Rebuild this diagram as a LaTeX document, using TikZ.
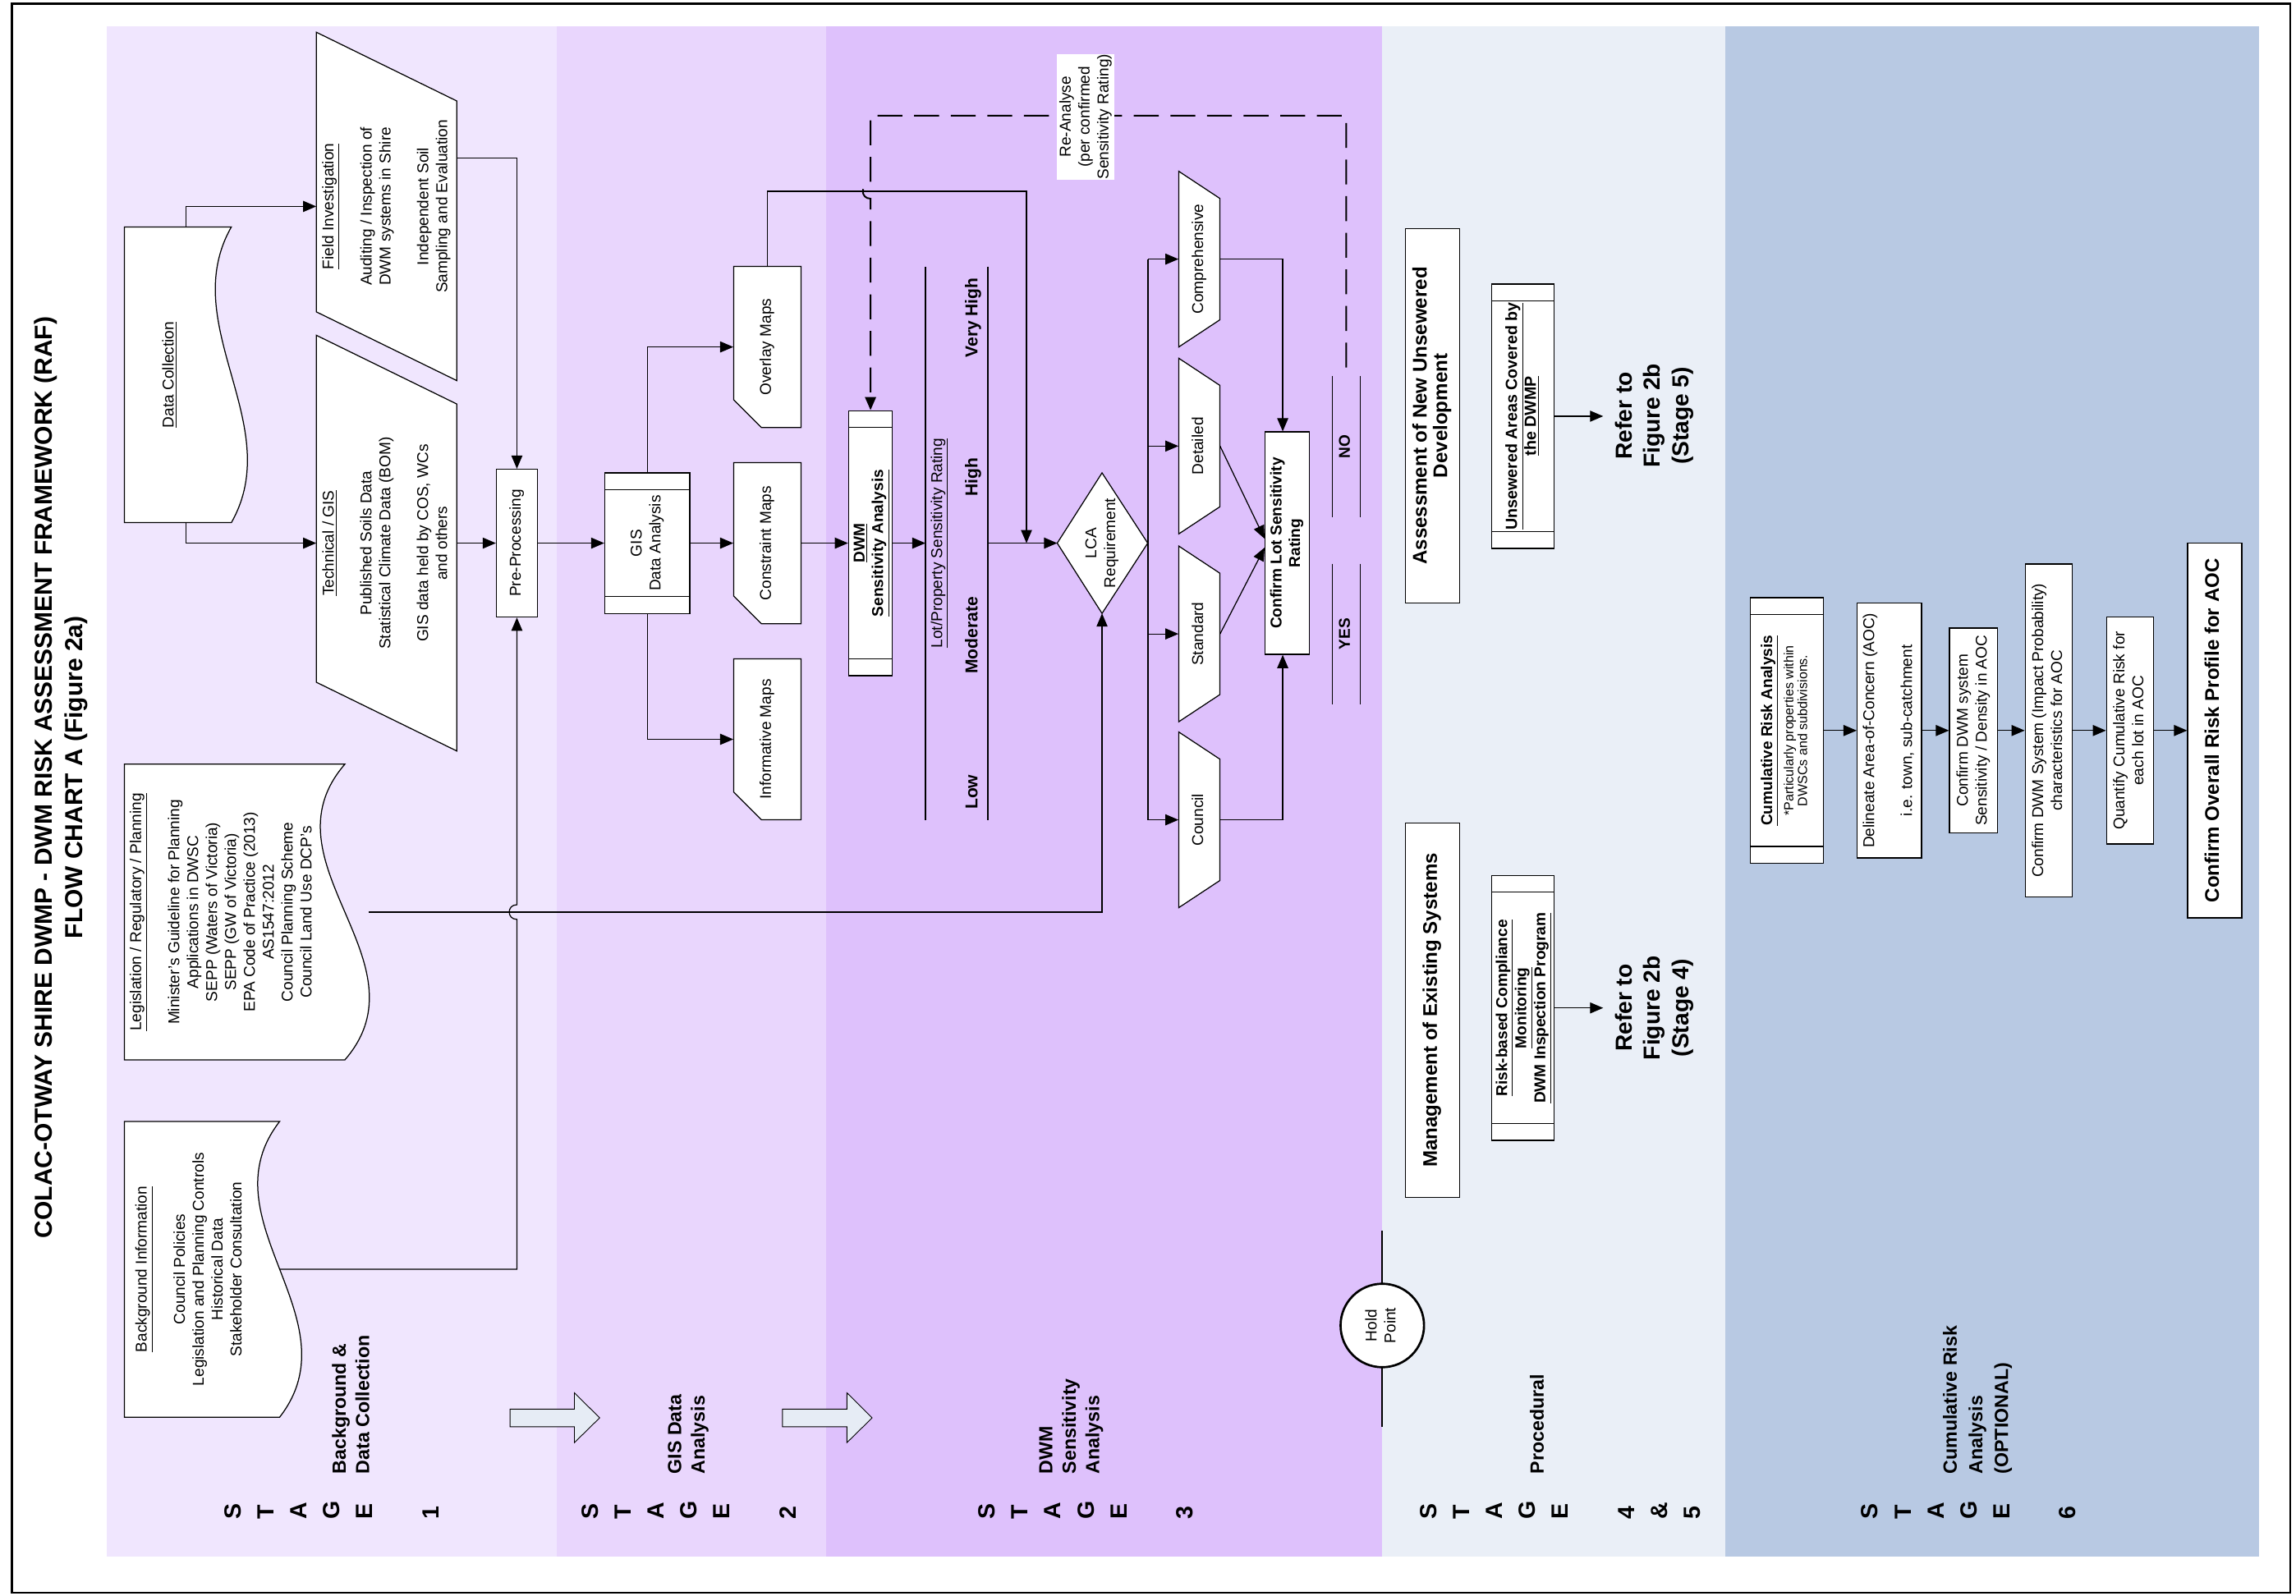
\documentclass[tikz,border=0pt]{standalone}
\usepackage{fontspec}
\setmainfont{Liberation Sans}
\usepackage{graphicx}
\usetikzlibrary{arrows.meta,calc}

\definecolor{stageone}{RGB}{240,230,254}
\definecolor{stagetwo}{RGB}{233,214,253}
\definecolor{stagethree}{RGB}{222,193,252}
\definecolor{stagefour}{RGB}{234,239,247}
\definecolor{stagesix}{RGB}{184,201,227}
\definecolor{hollow}{RGB}{230,236,245}

\newcommand{\vtext}[2][c]{\rotatebox{90}{\begin{tabular}{@{}#1@{}}#2\end{tabular}}}

\begin{document}
\begin{tikzpicture}[x=1pt,y=-1pt,
    body/.style={font=\fontsize{10.7}{12.9}\selectfont, inner sep=0pt},
    bbody/.style={font=\bfseries\fontsize{10.7}{12.6}\selectfont, inner sep=0pt},
    boxhead/.style={font=\bfseries\fontsize{13.5}{14}\selectfont, inner sep=0pt},
    referto/.style={font=\bfseries\fontsize{15.8}{19.4}\selectfont, inner sep=0pt},
    stagelbl/.style={font=\bfseries\fontsize{16}{22.5}\selectfont, inner sep=0pt, anchor=south},
    stagedesc/.style={font=\bfseries\fontsize{13}{16}\selectfont, inner sep=0pt, anchor=south},
    box/.style={draw, fill=white, line width=0.7pt},
    barbox/.style={box, path picture={
        \draw[line width=0.7pt]
          ([yshift=-11.5pt]path picture bounding box.north west) -- ([yshift=-11.5pt]path picture bounding box.north east)
          ([yshift=11.5pt]path picture bounding box.south west) -- ([yshift=11.5pt]path picture bounding box.south east);}},
    shp/.style={draw, fill=white, line width=0.7pt},
    wire/.style={line width=0.7pt},
    flow/.style={line width=0.7pt, -{Triangle[length=9pt,width=7.5pt]}}
  ]
  \useasboundingbox (0,0) rectangle (1568,1090);
  \fill[stageone] (73,18) rectangle (380,1063);
  \fill[stagetwo] (380,18) rectangle (564,1063);
  \fill[stagethree] (564,18) rectangle (944,1063);
  \fill[stagefour] (944,18) rectangle (1178,1063);
  \fill[stagesix] (1178,18) rectangle (1543,1063);
  \draw[line width=1.5pt] (8,2.5) rectangle (1564,1088);

  \node[font=\bfseries\fontsize{16.8}{20.5}\selectfont, inner sep=0pt] (title) at (42,531)
    {\vtext{COLAC-OTWAY SHIRE DWMP - DWM RISK ASSESSMENT FRAMEWORK (RAF)\\FLOW CHART A (Figure 2a)}};

  \draw[shp] (158,155) -- (85,155) -- (85,357) -- (158,357) .. controls (196,290) and (120,222) .. (158,155) -- cycle;
  \node[body] (datacol) at (116,256) {\vtext{\underline{Data Collection}}};
  \draw[shp] (235.5,522) -- (85,522) -- (85,724) -- (235.5,724) .. controls (293.5,657) and (177.5,589) .. (235.5,522) -- cycle;
  \node[body] (legis) at (152,623) {\vtext{\underline{Legislation / Regulatory / Planning}\\ \\Minister's Guideline for Planning\\Applications in DWSC\\SEPP (Waters of Victoria)\\SEPP (GW of Victoria)\\EPA Code of Practice (2013)\\AS1547:2012\\Council Planning Scheme\\Council Land Use DCP's}};
  \draw[shp] (191,766) -- (85,766) -- (85,968) -- (191,968) .. controls (243,901) and (139,833) .. (191,766) -- cycle;
  \node[body] (backg) at (130,867) {\vtext{\underline{Background Information}\\ \\Council Policies\\Legislation and Planning Controls\\Historical Data\\Stakeholder Consultation}};

  \draw[shp] (216,22) -- (312,69) -- (312,260) -- (216,213) -- cycle;
  \node[body] (field) at (264,141) {\vtext{\underline{Field Investigation}\\ \\Auditing / Inspection of\\DWM systems in Shire\\ \\Independent Soil\\Sampling and Evaluation}};
  \draw[shp] (216,229) -- (312,276) -- (312,513) -- (216,466) -- cycle;
  \node[body] (tech) at (264,371) {\vtext{\underline{Technical / GIS}\\ \\Published Soils Data\\Statistical Climate Data (BOM)\\ \\GIS data held by COS, WCs\\and others}};

  \coordinate (dctop) at (127,155);
  \coordinate (dcbot) at (127,357);
  \coordinate (fieldw) at (216,141);
  \coordinate (fielde) at (312,108);
  \coordinate (techw) at (216,371);
  \coordinate (teche) at (312,371);
  \coordinate (legise) at (252,623);
  \coordinate (backe) at (191,867);

  \node[box, body, minimum width=28pt, minimum height=101pt] (prep) at (353,371) {\vtext{Pre-Processing}};
  \draw[flow] (dctop) |- (fieldw);
  \draw[flow] (dcbot) |- (techw);
  \draw[flow] (fielde) -| (prep.north);
  \draw[flow] (teche) -- (prep.west);
  \draw[flow] (backe) -- (353,867) -- (353,628) .. controls (346,628) and (346,618) .. (353,618) -- (prep.south);

  \node[barbox, body, minimum width=58pt, minimum height=96pt] (gis) at (442,371) {\vtext{GIS\\Data Analysis}};
  \draw[flow] (prep.east) -- (gis.west);
  \foreach \nm/\yc/\txt in {ovl/237/Overlay Maps, cons/371/Constraint Maps, info/505/Informative Maps}{
    \draw[shp] (501,\yc-55) -- (547,\yc-55) -- (547,\yc+55) -- (520,\yc+55) -- (501,\yc+36) -- cycle;
    \node[body, minimum width=46pt, minimum height=110pt] (\nm) at (524,\yc) {\vtext{\txt}};
  }
  \draw[flow] (gis.north) |- (ovl.west);
  \draw[flow] (gis.east) -- (cons.west);
  \draw[flow] (gis.south) |- (info.west);

  \node[barbox, bbody, minimum width=30pt, minimum height=181pt] (dwm) at (594.5,371) {\vtext{\underline{DWM}\\\underline{Sensitivity Analysis}}};
  \draw[flow] (cons.east) -- (dwm.west);

  \draw[wire] (632,182) -- (632,560) (674.6,182) -- (674.6,560);
  \node[body] (lotrate) at (641,371) {\vtext{\underline{Lot/Property Sensitivity Rating}}};
  \foreach \nm/\yc/\lvl in {rvh/217/Very High, rhi/326/High, rmo/434/Moderate, rlo/541/Low}
    \node[font=\bfseries\fontsize{11.8}{13}\selectfont, inner sep=0pt] (\nm) at (665,\yc) {\vtext{\lvl}};
  \coordinate (lotw) at (632,371);
  \coordinate (lote) at (674.6,371);
  \draw[flow] (dwm.east) -- (lotw);

  \draw[shp] (722,371) -- (752.6,323) -- (783.8,371) -- (752.6,419) -- cycle;
  \node[body] (lca) at (752.6,371) {\vtext{LCA\\Requirement}};
  \coordinate (lcaw) at (722,371);
  \coordinate (lcas) at (752.6,419);
  \coordinate (merge) at (701,371);
  \draw[flow] (lote) -- (lcaw);
  \draw[flow] (legise) -| (lcas);
  \draw[flow] (ovl.north) |- (701,130.7) -- (merge);

  \draw[wire] (784,177) -- (784,560);
  \foreach \nm/\yc/\txt in {comp/177/Comprehensive, detl/304.7/Detailed, stnd/433/Standard, cncl/560/Council}{
    \draw[shp] (805,\yc-60) -- (833,\yc-41.5) -- (833,\yc+41.5) -- (805,\yc+60) -- cycle;
    \node[body, minimum width=28pt, minimum height=83pt] (\nm) at (819,\yc) {\vtext{\txt}};
    \draw[flow] (784,\yc) -- (\nm.west);
  }

  \node[box, bbody, minimum width=30pt, minimum height=152pt] (conf) at (879,371) {\vtext{Confirm Lot Sensitivity\\Rating}};
  \draw[flow] (comp.east) -| ([xshift=-3pt]conf.north);
  \draw[flow] (cncl.east) -| ([xshift=-3pt]conf.south);
  \draw[flow] (detl.east) -- ([yshift=3pt]conf.west);
  \draw[flow] (stnd.east) -- ([yshift=-3pt]conf.west);

  \draw[wire] (909.7,257) -- (909.7,353.5) (928.9,257) -- (928.9,353.5);
  \draw[wire] (909.7,385) -- (909.7,481) (928.9,385) -- (928.9,481);
  \node[bbody] (no) at (919.3,305) {\vtext{NO}};
  \node[bbody] (yes) at (919.3,433) {\vtext{YES}};
  \coordinate (notop) at (919.3,251);
  \draw[line width=1.1pt, dash pattern=on 17pt off 8pt, -{Triangle[length=9pt,width=7.5pt]}]
    (notop) -- (919.3,79) -- (594.5,79) -- (594.5,125.7) .. controls (587.5,125.7) and (587.5,135.7) .. (594.5,135.7) -- (dwm.north);
  \node[body, fill=white, minimum width=39pt, minimum height=85.5pt] (reanal) at (741.5,79.8) {\vtext{Re-Analyse\\(per confirmed\\Sensitivity Rating)}};

  \draw[line width=1.1pt] (944,840.6) -- (944,974.6);
  \node[circle, draw, line width=1.5pt, fill=white, minimum size=57pt, body] (hold) at (944,905.4) {\vtext{Hold\\Point}};

  \node[box, boxhead, minimum width=37pt, minimum height=256pt] (newdev) at (978.5,284) {\vtext{Assessment of New Unsewered\\Development}};
  \node[barbox, font=\bfseries\fontsize{11}{12.4}\selectfont, inner sep=0pt, minimum width=43pt, minimum height=180.6pt] (unsew) at (1040,284.3) {\vtext{\underline{Unsewered Areas Covered by}\\\underline{the DWMP}}};
  \node[referto] (refer5) at (1130,284) {\vtext{Refer to\\Figure 2b\\(Stage 5)}};
  \draw[flow] (unsew.east) -- ++(33,0);
  \node[box, boxhead, minimum width=37pt, minimum height=256pt] (mgmt) at (978.5,690) {\vtext{Management of Existing Systems}};
  \node[barbox, bbody, minimum width=43pt, minimum height=181pt] (riskmon) at (1040,688.5) {\vtext{\underline{Risk-based Compliance}\\\underline{Monitoring}\\\underline{DWM Inspection Program}}};
  \node[referto] (refer4) at (1130,688.5) {\vtext{Refer to\\Figure 2b\\(Stage 4)}};
  \draw[flow] (riskmon.east) -- ++(33,0);

  \node[barbox, minimum width=50pt, minimum height=181.4pt] (cumrisk) at (1220.3,499) {};
  \node[bbody] (cumhead) at (1208,499) {\vtext{\underline{Cumulative Risk Analysis}}};
  \node[font=\fontsize{9}{9.5}\selectfont, inner sep=0pt] (cumnote) at (1227.5,499) {\vtext{*Particularly properties within\\DWSCs and subdivisions.}};
  \node[box, body, minimum width=44pt, minimum height=174pt] (aoc) at (1290.3,499) {\vtext{Delineate Area-of-Concern (AOC)\\ \\i.e. town, sub-catchment}};
  \node[box, body, minimum width=32.7pt, minimum height=140pt] (sens) at (1347.7,499) {\vtext{Confirm DWM system\\Sensitivity / Density in AOC}};
  \node[box, body, minimum width=32.3pt, minimum height=227.5pt] (impact) at (1399.2,499) {\vtext{Confirm DWM System (Impact Probability)\\characteristics for AOC}};
  \node[box, body, minimum width=32.3pt, minimum height=155pt] (quant) at (1454.7,499) {\vtext{Quantify Cumulative Risk for\\each lot in AOC}};
  \node[box, boxhead, minimum width=37pt, minimum height=256pt] (overall) at (1512.5,499) {\vtext{Confirm Overall Risk Profile for AOC}};
  \foreach \a/\b in {cumrisk/aoc, aoc/sens, sens/impact, impact/quant, quant/overall}
    \draw[flow] (\a.east) -- (\b.west);

  \foreach \xs in {348.3, 534.4}
    \draw[fill=hollow, line width=0.5pt] (\xs,962.5) -- (\xs+44,962.5) -- (\xs+44,951.4) -- (\xs+61.2,968.5)
      -- (\xs+44,985.4) -- (\xs+44,974.6) -- (\xs,974.6) -- cycle;

  \foreach \nm/\xc/\num in {stg1/227.5/1, stg2/471.5/2, stg3/742.5/3, stg6/1345.5/6}
    \node[stagelbl] (\nm) at (\xc,1038) {\vtext[l]{S\\T\\A\\G\\E\\ \\\num}};
  \node[stagelbl] (stg45) at (1066.5,1038) {\vtext[l]{S\\T\\A\\G\\E\\ \\4\\\&\\5}};
  \node[stagedesc] (desc1) at (241,1007) {\vtext[l]{Background \&\\Data Collection}};
  \node[stagedesc] (desc2) at (470,1007) {\vtext[l]{GIS Data\\Analysis}};
  \node[stagedesc] (desc3) at (731.5,1007) {\vtext[l]{DWM\\Sensitivity\\Analysis}};
  \node[stagedesc] (desc45) at (1051,1007) {\vtext[l]{Procedural}};
  \node[stagedesc, font=\bfseries\fontsize{13}{17.5}\selectfont] (desc6) at (1350.3,1007) {\vtext[l]{Cumulative Risk\\Analysis\\(OPTIONAL)}};
\end{tikzpicture}
\end{document}
